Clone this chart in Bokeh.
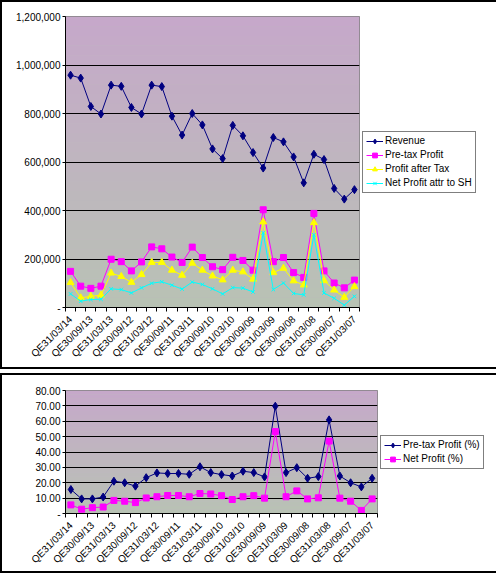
import math
from bokeh.plotting import figure
from bokeh.models import (Range1d, FixedTicker, NumeralTickFormatter, Legend,
                          LegendItem, BoxAnnotation)
from bokeh.layouts import column
from bokeh.embed import file_html
from bokeh.resources import INLINE

quarters = ["QE31/03/14", "QE31/12/13", "QE30/09/13", "QE30/06/13", "QE31/03/13",
            "QE31/12/12", "QE30/09/12", "QE30/06/12", "QE31/03/12", "QE31/12/11",
            "QE30/09/11", "QE30/06/11", "QE31/03/11", "QE31/12/10", "QE30/09/10",
            "QE30/06/10", "QE31/03/10", "QE31/12/09", "QE30/09/09", "QE30/06/09",
            "QE31/03/09", "QE31/12/08", "QE30/09/08", "QE30/06/08", "QE31/03/08",
            "QE31/12/07", "QE30/09/07", "QE30/06/07", "QE31/03/07"]

revenue = [958000, 946000, 829000, 798000, 917000, 912000, 825000, 798000, 917000,
           911000, 789000, 711000, 800000, 753000, 654000, 614000, 751000, 708000,
           639000, 575000, 701000, 683000, 621000, 514000, 632000, 610000, 491000,
           447000, 486000]
pretax_profit = [149000, 88000, 79000, 88000, 199000, 189000, 151000, 188000, 250000,
                 242000, 208000, 186000, 249000, 206000, 168000, 156000, 207000,
                 194000, 154000, 403000, 189000, 206000, 144000, 124000, 388000,
                 151000, 101000, 81000, 113000]
profit_after_tax = [103000, 40000, 46000, 51000, 142000, 128000, 104000, 136000,
                    186000, 186000, 154000, 133000, 183000, 154000, 130000, 114000,
                    154000, 147000, 117000, 353000, 144000, 162000, 110000, 93000,
                    350000, 111000, 72000, 42000, 86000]
net_profit_sh = [56000, 26000, 33000, 34000, 77000, 74000, 60000, 81000, 100000,
                 106000, 92000, 76000, 105000, 95000, 77000, 56000, 82000, 80000,
                 64000, 308000, 74000, 101000, 58000, 52000, 300000, 60000, 38000,
                 10000, 46000]

pretax_pct = [15.6, 9.5, 9.5, 10.7, 21.0, 20.0, 17.8, 23.3, 26.4, 26.0, 26.0, 25.5,
              30.4, 26.6, 25.3, 24.4, 27.5, 26.6, 23.8, 69.8, 26.6, 29.8, 22.9, 24.0,
              60.9, 24.4, 20.0, 17.3, 22.9]
net_pct = [5.6, 2.8, 3.8, 4.2, 8.5, 8.0, 7.1, 10.1, 10.9, 11.7, 11.7, 10.9, 13.0,
           12.7, 11.6, 9.1, 10.9, 11.6, 10.0, 53.3, 10.9, 14.7, 9.5, 10.2, 47.1, 10.0,
           8.0, 2.0, 9.5]

top_yticks = [0, 200000, 400000, 600000, 800000, 1000000, 1200000]
bottom_yticks = [0, 10, 20, 30, 40, 50, 60, 70, 80]

FONT = "Liberation Sans"
NAVY = "#000080"
MAGENTA = "#FF00FF"
YELLOW = "#FFFF00"
CYAN = "#00FFFF"

x = list(range(len(quarters)))


def make_fig(width, height, fl, ft, fw, fh, yticks, fmt):
    ymax = yticks[-1]
    p = figure(frame_width=fw, frame_height=fh,
               min_border_left=fl, min_border_top=ft,
               min_border_right=width - fl - fw, min_border_bottom=height - ft - fh,
               x_range=Range1d(-0.5, len(quarters) - 0.5),
               y_range=Range1d(0, ymax),
               output_backend="svg", toolbar_location=None, tools="")
    p.styles = {"border": "2px solid black"}
    p.background_fill_color = "#C0B8C0"
    p.border_fill_color = "white"
    p.outline_line_color = "#808080"
    p.outline_line_width = 1

    # vertical gradient background (mauve top to grey-green bottom)
    n = 30
    c0 = (198, 168, 202)
    c1 = (184, 194, 180)
    for i in range(n):
        t = (i + 0.5) / n
        col = tuple(int(round(c0[k] + (c1[k] - c0[k]) * t)) for k in range(3))
        p.add_layout(BoxAnnotation(top=ymax * (1 - i / n), bottom=ymax * (1 - (i + 1) / n),
                                   fill_color="#%02x%02x%02x" % col, fill_alpha=1,
                                   line_alpha=0, level="image"))

    p.xgrid.visible = False
    p.ygrid.ticker = FixedTicker(ticks=yticks[1:-1])
    p.ygrid.grid_line_color = "black"
    p.ygrid.grid_line_width = 1

    yax = p.yaxis[0]
    yax.ticker = FixedTicker(ticks=yticks)
    yax.formatter = NumeralTickFormatter(format=fmt)
    yax.major_label_overrides = {0: "-"}
    yax.major_tick_out = 3
    yax.major_tick_in = 0
    yax.minor_tick_out = 0
    yax.minor_tick_in = 0
    yax.major_label_standoff = 2
    yax.axis_line_color = "black"
    yax.major_tick_line_color = "black"

    xax = p.xaxis[0]
    xax.ticker = FixedTicker(ticks=list(range(0, len(quarters), 2)),
                             minor_ticks=[i - 0.5 for i in range(len(quarters) + 1)])
    xax.major_label_overrides = {i: quarters[i] for i in range(0, len(quarters), 2)}
    xax.major_label_orientation = math.pi / 4
    xax.major_tick_out = 0
    xax.major_tick_in = 0
    xax.minor_tick_out = 4
    xax.minor_tick_in = 0
    xax.minor_tick_line_color = "black"
    xax.major_label_standoff = 6
    xax.axis_line_color = "black"

    for ax in (xax, yax):
        ax.major_label_text_font = FONT
        ax.major_label_text_font_size = "10px"
        ax.major_label_text_color = "black"
    return p


def style_legend(legend):
    legend.border_line_color = "black"
    legend.border_line_width = 1
    legend.background_fill_color = "white"
    legend.background_fill_alpha = 1
    legend.label_text_font = FONT
    legend.label_text_font_size = "10px"
    legend.label_text_color = "black"
    legend.glyph_width = 17
    legend.glyph_height = 12
    legend.label_height = 12
    legend.label_standoff = 2
    legend.spacing = 2
    legend.padding = 3
    legend.margin = 3


# ---- top chart ----
p1 = make_fig(478, 365, 63, 14, 290, 287, top_yticks, "0,0")
series_top = [
    ("Revenue", revenue, NAVY, "diamond", 8),
    ("Pre-tax Profit", pretax_profit, MAGENTA, "square", 6),
    ("Profit after Tax", profit_after_tax, YELLOW, "triangle", 7),
    ("Net Profit attr to SH", net_profit_sh, CYAN, "x", 5),
]
items = []
for label, ys, col, mk, sz in series_top:
    ln = p1.line(x, ys, line_color=col, line_width=1)
    sc = p1.scatter(x, ys, marker=mk, size=sz, fill_color=col, line_color=col)
    items.append(LegendItem(label=label, renderers=[ln, sc]))
leg1 = Legend(items=items, location="left")
style_legend(leg1)
p1.add_layout(leg1, "right")

# ---- bottom chart ----
p2 = make_fig(478, 196, 51, 15, 308, 119, bottom_yticks, "0.00")
series_bottom = [
    ("Pre-tax Profit (%)", pretax_pct, NAVY, "diamond", 8),
    ("Net Profit (%)", net_pct, MAGENTA, "square", 6),
]
items2 = []
for label, ys, col, mk, sz in series_bottom:
    ln = p2.line(x, ys, line_color=col, line_width=1)
    sc = p2.scatter(x, ys, marker=mk, size=sz, fill_color=col, line_color=col)
    items2.append(LegendItem(label=label, renderers=[ln, sc]))
leg2 = Legend(items=items2, location="left")
style_legend(leg2)
p2.add_layout(leg2, "right")

layout = column(p1, p2, spacing=4)
open("out.html", "w").write(file_html(layout, INLINE))
